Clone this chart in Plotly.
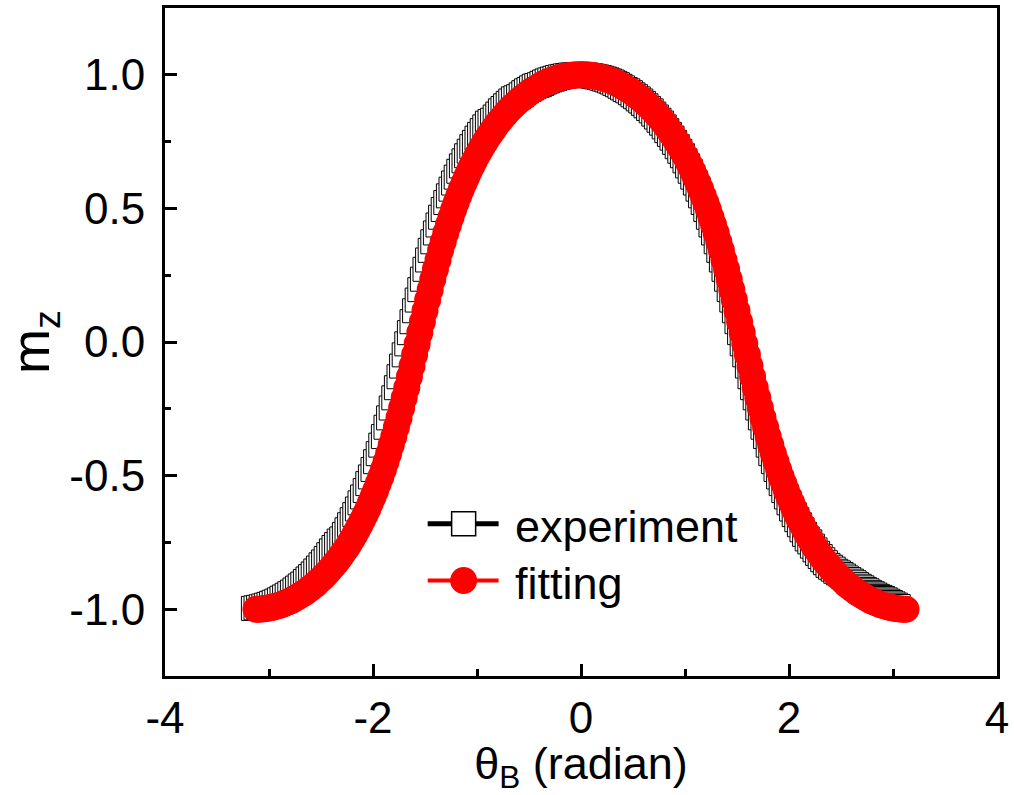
import numpy as np
import plotly.graph_objects as go

# ---- measured magnetisation m_z versus field angle theta_B ----
EXP_THETA_START = -3.15
EXP_THETA_END = 3.05
exp_mz = [
    -0.997, -0.995, -0.993, -0.991, -0.988, -0.985, -0.982, -0.978, -0.974, -0.970,
    -0.965, -0.959, -0.954, -0.948, -0.942, -0.936, -0.928, -0.921, -0.913, -0.906,
    -0.896, -0.887, -0.878, -0.868, -0.857, -0.846, -0.834, -0.823, -0.810, -0.796,
    -0.782, -0.769, -0.758, -0.745, -0.737, -0.720, -0.703, -0.684, -0.665, -0.646,
    -0.625, -0.602, -0.580, -0.556, -0.530, -0.505, -0.477, -0.448, -0.418, -0.386,
    -0.354, -0.319, -0.284, -0.247, -0.209, -0.171, -0.130, -0.090, -0.048, -0.007,
    0.035, 0.076, 0.117, 0.157, 0.196, 0.235, 0.272, 0.307, 0.343, 0.375,
    0.408, 0.438, 0.467, 0.496, 0.522, 0.547, 0.572, 0.595, 0.617, 0.639,
    0.659, 0.678, 0.697, 0.714, 0.731, 0.747, 0.763, 0.777, 0.791, 0.805,
    0.819, 0.825, 0.830, 0.842, 0.853, 0.865, 0.874, 0.884, 0.893, 0.902,
    0.910, 0.914, 0.918, 0.925, 0.933, 0.940, 0.945, 0.951, 0.957, 0.960,
    0.963, 0.968, 0.973, 0.977, 0.981, 0.984, 0.987, 0.990, 0.992, 0.994,
    0.996, 0.997, 0.999, 0.999, 1.000, 1.000,
    1.000, 0.999, 0.999, 0.997, 0.996, 0.994, 0.992, 0.990, 0.987, 0.984,
    0.981, 0.977, 0.973, 0.968, 0.963, 0.957, 0.951, 0.945, 0.940, 0.933,
    0.925, 0.918, 0.910, 0.902, 0.893, 0.884, 0.874, 0.865, 0.853, 0.842,
    0.830, 0.819, 0.805, 0.791, 0.777, 0.763, 0.747, 0.731, 0.714, 0.697,
    0.678, 0.659, 0.639, 0.617, 0.595, 0.572, 0.547, 0.522, 0.496, 0.467,
    0.438, 0.408, 0.375, 0.343, 0.307, 0.272, 0.235, 0.196, 0.157, 0.117,
    0.076, 0.035, -0.007, -0.048, -0.090, -0.130, -0.171, -0.209, -0.247, -0.284,
    -0.319, -0.354, -0.386, -0.418, -0.448, -0.477, -0.505, -0.530, -0.556, -0.580,
    -0.602, -0.625, -0.646, -0.665, -0.684, -0.703, -0.720, -0.737, -0.748, -0.764,
    -0.778, -0.791, -0.803, -0.815, -0.826, -0.836, -0.843, -0.850, -0.858, -0.864,
    -0.870, -0.876, -0.883, -0.889, -0.895, -0.901, -0.908, -0.914, -0.920, -0.926,
    -0.931, -0.937, -0.942, -0.947, -0.952, -0.956, -0.960, -0.965, -0.970, -0.975,
    -0.980, -0.985, -0.990,
]

# ---- fitted curve, sampled every 0.025 rad over -3.125 .. 3.125 ----
FIT_THETA_START = -3.125
FIT_THETA_END = 3.125
fit_mz = [
    -1.000, -1.000, -0.999, -0.998, -0.997, -0.995,
    -0.993, -0.991, -0.988, -0.985, -0.982, -0.978, -0.974, -0.970, -0.965, -0.959,
    -0.954, -0.948, -0.942, -0.936, -0.928, -0.921, -0.913, -0.906, -0.896, -0.887,
    -0.878, -0.868, -0.857, -0.846, -0.834, -0.823, -0.810, -0.796, -0.782, -0.769,
    -0.753, -0.737, -0.720, -0.703, -0.684, -0.665, -0.646, -0.625, -0.602, -0.580,
    -0.556, -0.530, -0.505, -0.477, -0.448, -0.418, -0.386, -0.354, -0.319, -0.284,
    -0.247, -0.209, -0.171, -0.130, -0.090, -0.048, -0.007, 0.035, 0.076, 0.117,
    0.157, 0.196, 0.235, 0.272, 0.307, 0.343, 0.375, 0.408, 0.438, 0.467,
    0.496, 0.522, 0.547, 0.572, 0.595, 0.617, 0.639, 0.659, 0.678, 0.697,
    0.714, 0.731, 0.747, 0.763, 0.777, 0.791, 0.805, 0.819, 0.830, 0.842,
    0.853, 0.865, 0.874, 0.884, 0.893, 0.902, 0.910, 0.918, 0.925, 0.933,
    0.940, 0.945, 0.951, 0.957, 0.963, 0.968, 0.973, 0.977, 0.981, 0.984,
    0.987, 0.990, 0.992, 0.994, 0.996, 0.997, 0.999, 0.999, 1.000,
    1.000,
    1.000, 0.999, 0.999, 0.997, 0.996, 0.994, 0.992, 0.990, 0.987,
    0.984, 0.981, 0.977, 0.973, 0.968, 0.963, 0.957, 0.951, 0.945, 0.940,
    0.933, 0.925, 0.918, 0.910, 0.902, 0.893, 0.884, 0.874, 0.865, 0.853,
    0.842, 0.830, 0.819, 0.805, 0.791, 0.777, 0.763, 0.747, 0.731, 0.714,
    0.697, 0.678, 0.659, 0.639, 0.617, 0.595, 0.572, 0.547, 0.522, 0.496,
    0.467, 0.438, 0.408, 0.375, 0.343, 0.307, 0.272, 0.235, 0.196, 0.157,
    0.117, 0.076, 0.035, -0.007, -0.048, -0.090, -0.130, -0.171, -0.209, -0.247,
    -0.284, -0.319, -0.354, -0.386, -0.418, -0.448, -0.477, -0.505, -0.530, -0.556,
    -0.580, -0.602, -0.625, -0.646, -0.665, -0.684, -0.703, -0.720, -0.737, -0.753,
    -0.769, -0.782, -0.796, -0.810, -0.823, -0.834, -0.846, -0.857, -0.868, -0.878,
    -0.887, -0.896, -0.906, -0.913, -0.921, -0.928, -0.936, -0.942, -0.948, -0.954,
    -0.959, -0.965, -0.970, -0.974, -0.978, -0.982, -0.985, -0.988, -0.991, -0.993,
    -0.995, -0.997, -0.998, -0.999, -1.000, -1.000,
]

# ---- axis ticks ----
x_tick_vals = [-4, -2, 0, 2, 4]
x_tick_text = ["-4", "-2", "0", "2", "4"]
x_minor_vals = [-3, -1, 1, 3]
y_tick_vals = [-1.0, -0.5, 0.0, 0.5, 1.0]
y_tick_text = ["-1.0", "-0.5", "0.0", "0.5", "1.0"]
y_minor_vals = [-0.75, -0.25, 0.25, 0.75]

series_names = ["experiment", "fitting"]

exp_theta = np.linspace(EXP_THETA_START, EXP_THETA_END, len(exp_mz))
fit_theta = np.linspace(FIT_THETA_START, FIT_THETA_END, len(fit_mz))

FONT = "Liberation Sans, Arial, Helvetica, sans-serif"

fig = go.Figure()
fig.add_trace(go.Scatter(
    x=exp_theta, y=exp_mz, mode="markers", name=series_names[0],
    marker=dict(symbol="square", size=24, color="white",
                line=dict(color="black", width=1)),
    showlegend=False,
))
fig.add_trace(go.Scatter(
    x=fit_theta, y=fit_mz, mode="markers", name=series_names[1],
    marker=dict(symbol="circle", size=27, color="#ff0000",
                line=dict(width=0)),
    showlegend=False,
))

# ---- key (drawn with shapes so the symbols keep their full size) ----
PLOT_L, PLOT_R, PLOT_T, PLOT_B = 165, 998, 5, 676


def px_x(px):
    return (px - PLOT_L) / (PLOT_R - PLOT_L)


def px_y(py):
    return (PLOT_B - py) / (PLOT_B - PLOT_T)


key_rows = [
    dict(name=series_names[0], yc=523, color="black", lw=5, kind="rect",
         half=12, fill="white", edge="black", edge_w=1.5),
    dict(name=series_names[1], yc=580, color="#ff0000", lw=4, kind="circle",
         half=13.5, fill="#ff0000", edge="#ff0000", edge_w=0),
]
shapes = []
annotations = []
for row in key_rows:
    yk = px_y(row["yc"])
    shapes.append(dict(type="line", xref="paper", yref="paper",
                       x0=px_x(428), x1=px_x(499), y0=yk, y1=yk,
                       line=dict(color=row["color"], width=row["lw"])))
    h = row["half"]
    shapes.append(dict(type=row["kind"], xref="paper", yref="paper",
                       xsizemode="pixel", ysizemode="pixel",
                       xanchor=px_x(464), yanchor=yk,
                       x0=-h, x1=h, y0=-h, y1=h,
                       fillcolor=row["fill"],
                       line=dict(color=row["edge"], width=row["edge_w"])))
    annotations.append(dict(xref="paper", yref="paper", x=px_x(513), y=yk,
                            xanchor="left", yanchor="middle", showarrow=False,
                            yshift=-3, text=row["name"],
                            font=dict(family=FONT, size=45, color="black")))

axis_common = dict(
    showgrid=False, zeroline=False, showline=True, linecolor="black",
    linewidth=3, mirror=True, ticks="inside", tickcolor="black",
    ticklen=12, tickwidth=3,
    tickfont=dict(family=FONT, size=44, color="black"),
)

fig.update_layout(
    width=1014, height=795,
    margin=dict(l=PLOT_L, r=1014 - PLOT_R, t=PLOT_T, b=795 - PLOT_B),
    paper_bgcolor="white", plot_bgcolor="white",
    xaxis=dict(
        range=[-4, 4], tickmode="array", tickvals=x_tick_vals,
        ticktext=x_tick_text, ticklabelstandoff=1,
        minor=dict(tickmode="array", tickvals=x_minor_vals, ticks="inside",
                   ticklen=7, tickwidth=3, tickcolor="black"),
        title=dict(text="θ<sub>B</sub> (radian)", standoff=9,
                   font=dict(family=FONT, size=45, color="black")),
        **axis_common,
    ),
    yaxis=dict(
        range=[-1.25, 1.25], tickmode="array", tickvals=y_tick_vals,
        ticktext=y_tick_text, ticklabelstandoff=8,
        minor=dict(tickmode="array", tickvals=y_minor_vals, ticks="inside",
                   ticklen=6, tickwidth=3, tickcolor="black"),
        title=dict(text="m<sub>z</sub>", standoff=6,
                   font=dict(family=FONT, size=54, color="black")),
        **axis_common,
    ),
    shapes=shapes,
    annotations=annotations,
    showlegend=False,
)

fig.write_html("out.html")
